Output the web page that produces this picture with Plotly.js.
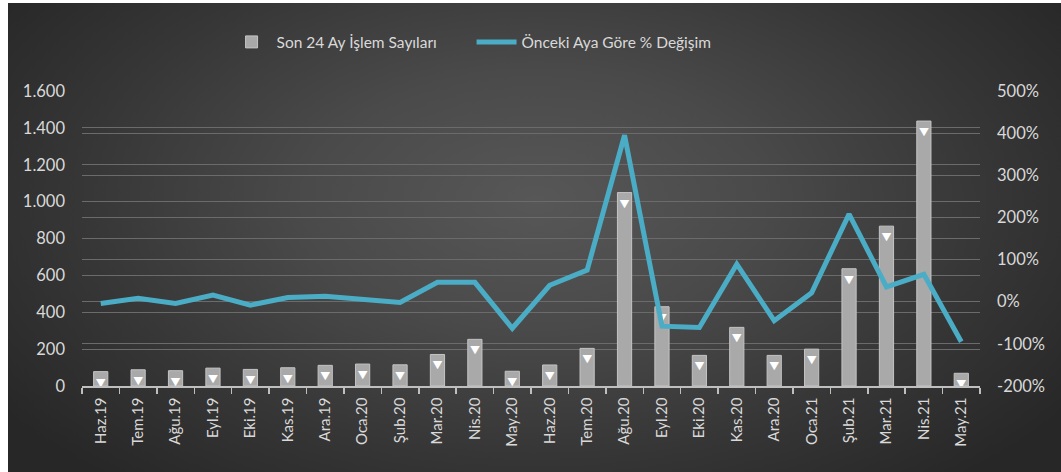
<!DOCTYPE html>
<html>
<head>
<meta charset="utf-8">
<script src="https://cdn.plot.ly/plotly-3.0.1.min.js"></script>
<style>
  html, body { margin: 0; padding: 0; background: #ffffff; }
  #wrap { position: relative; width: 1061px; height: 472px; background: #ffffff; overflow: hidden; }
  #bg { position: absolute; left: 8px; top: 3px; width: 1053px; height: 469px;
        background: radial-gradient(ellipse 62% 78% at 50% 42%, #575757 0%, #4a4a4a 35%, #363636 70%, #272727 100%); }
  #chart { position: absolute; left: 0; top: 0; width: 1061px; height: 472px; }
</style>
</head>
<body>
<div id="wrap"><div id="bg"></div><div id="chart"></div></div>
<script>
const months = ["Haz.19","Tem.19","Ağu.19","Eyl.19","Eki.19","Kas.19","Ara.19","Oca.20","Şub.20","Mar.20","Nis.20","May.20",
                "Haz.20","Tem.20","Ağu.20","Eyl.20","Eki.20","Kas.20","Ara.20","Oca.21","Şub.21","Mar.21","Nis.21","May.21"];
const islemSayilari = [78, 88, 83, 97, 90, 99, 112, 119, 115, 171, 253, 80,
                       114, 204, 1049, 430, 166, 318, 166, 200, 636, 867, 1437, 69];
const degisimYuzde = [-4, 8, -4, 16, -8, 10, 13, 6, -2, 46, 46, -63,
                      39, 75, 395, -58, -61, 89, -45, 21, 208, 35, 65, -95];
const leftTicks = [0, 200, 400, 600, 800, 1000, 1200, 1400, 1600];
const rightTicks = [-200, -100, 0, 100, 200, 300, 400, 500];
const rightTickText = ["-200%", "-100%", "0%", "100%", "200%", "300%", "400%", "500%"];
const seriesNames = ["Son 24 Ay İşlem Sayıları", "Önceki Aya Göre % Değişim"];

const FONT = "Lato, 'Noto Sans', sans-serif";
const TXT = "#d9d9d9";

const traces = [
  {
    type: "bar", name: seriesNames[0], x: months, y: islemSayilari, yaxis: "y",
    marker: { color: "#a9a9a9", line: { color: "#c4c4c4", width: 1 } },
    texttemplate: "▼", textposition: "inside", insidetextanchor: "end",
    constraintext: "none", textangle: 0,
    insidetextfont: { color: "#ffffff", size: 10, family: "'Noto Sans CJK SC'" },
    hoverinfo: "x+y"
  },
  {
    type: "scatter", mode: "lines", name: seriesNames[1], x: months, y: degisimYuzde, yaxis: "y2",
    line: { color: "#4bacc6", width: 5, shape: "linear" },
    hoverinfo: "x+y"
  }
];

const layout = {
  width: 1061, height: 472,
  paper_bgcolor: "rgba(0,0,0,0)", plot_bgcolor: "rgba(0,0,0,0)",
  separators: ",.",
  margin: { l: 82, r: 81, t: 91, b: 86, pad: 0 },
  font: { family: FONT, color: TXT, size: 15 },
  bargap: 0.62,
  showlegend: true,
  legend: {
    orientation: "h", x: 0.161, xanchor: "left", y: 1.165, yanchor: "middle",
    font: { family: FONT, color: TXT, size: 15.5 }, bgcolor: "rgba(0,0,0,0)",
    itemwidth: 40, entrywidth: 190
  },
  xaxis: {
    type: "category", showgrid: false, zeroline: false,
    showline: true, linecolor: "#bfbfbf", linewidth: 1.5,
    ticks: "outside", tickson: "boundaries", ticklen: 6, tickcolor: "#bfbfbf", tickwidth: 1.5,
    tickangle: -90, tickfont: { family: FONT, color: TXT, size: 15 },
    ticklabelstandoff: 4
  },
  yaxis: {
    range: [0, 1600], tickvals: leftTicks, tickformat: ",d",
    showgrid: true, gridcolor: "#6b6b6b", gridwidth: 1,
    zeroline: false, showline: false, ticks: "",
    tickfont: { family: FONT, color: TXT, size: 16.5 },
    ticklabelstandoff: 16
  },
  yaxis2: {
    overlaying: "y", side: "right", range: [-200, 500],
    tickvals: rightTicks, ticktext: rightTickText,
    showgrid: true, gridcolor: "#6b6b6b", gridwidth: 1,
    zeroline: false, showline: false, ticks: "",
    tickfont: { family: FONT, color: TXT, size: 16.5 },
    ticklabelstandoff: 16
  }
};

Plotly.newPlot("chart", traces, layout, { displayModeBar: false, staticPlot: true });
</script>
</body>
</html>
